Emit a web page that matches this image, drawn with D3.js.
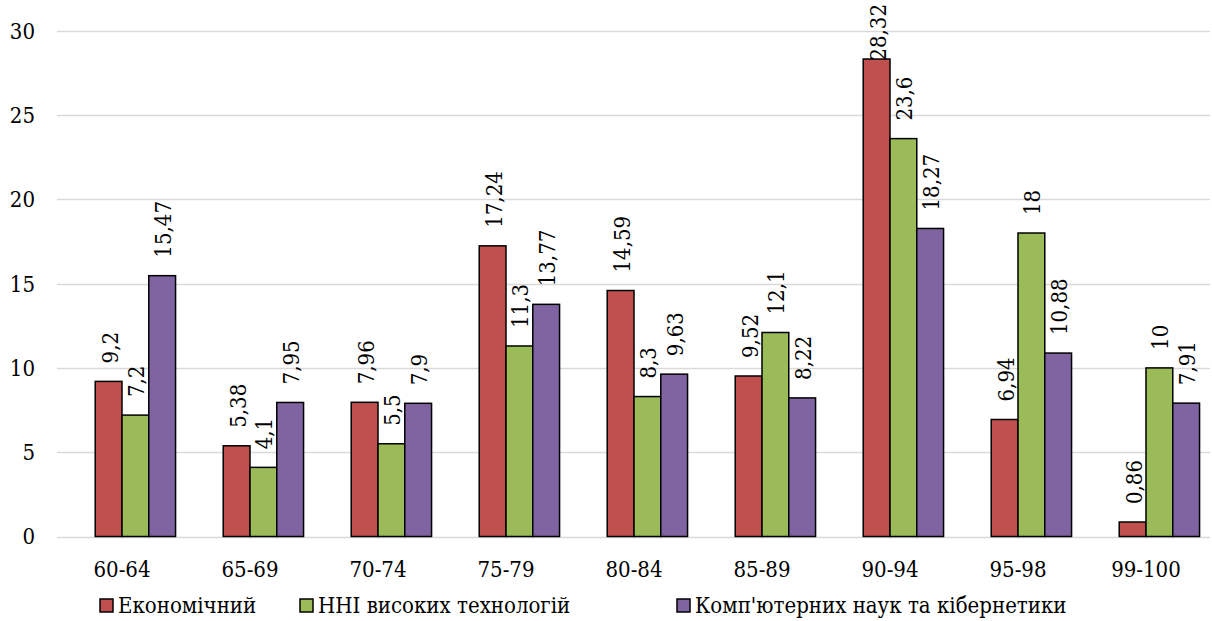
<!DOCTYPE html>
<html>
<head>
<meta charset="utf-8">
<script src="https://cdn.jsdelivr.net/npm/d3@7"></script>
<style>
  html, body { margin: 0; padding: 0; background: #fff; }
  svg text { font-family: 'DejaVu Serif Condensed', 'DejaVu Serif', serif; font-stretch: condensed; }
</style>
</head>
<body>
<svg id="chart" width="1212" height="621"></svg>
<script>
const categories = ["60-64", "65-69", "70-74", "75-79", "80-84", "85-89", "90-94", "95-98", "99-100"];
const seriesNames = ["Економічний", "ННІ високих технологій", "Комп'ютерних наук та кібернетики"];
const economic = [9.2, 5.38, 7.96, 17.24, 14.59, 9.52, 28.32, 6.94, 0.86];
const highTech = [7.2, 4.1, 5.5, 11.3, 8.3, 12.1, 23.6, 18, 10];
const compSci = [15.47, 7.95, 7.9, 13.77, 9.63, 8.22, 18.27, 10.88, 7.91];
const yTicks = [0, 5, 10, 15, 20, 25, 30];
const colors = ["#C0504D", "#9BBB59", "#8064A2"];

const seriesValues = [economic, highTech, compSci];
const svg = d3.select("#chart");
const fontSize = 22;

const plotLeft = 57, plotRight = 1210, plotTop = 30.7, plotBottom = 536.5;

const x0 = d3.scaleBand().domain(categories).range([plotLeft + 1, plotRight]).paddingInner(0).paddingOuter(0);
const slots = ["", ...seriesNames];
const x1 = d3.scaleBand().domain(slots).range([0, x0.bandwidth()]).paddingOuter(0.39).paddingInner(0);
const y = d3.scaleLinear().domain([0, 30]).range([plotBottom, plotTop]);

svg.append("g").selectAll("line").data(yTicks).join("line")
  .attr("x1", plotLeft).attr("x2", plotRight)
  .attr("y1", d => Math.round(y(d)) + 0.5).attr("y2", d => Math.round(y(d)) + 0.5)
  .attr("stroke", "#d9d9d9").attr("stroke-width", 1.3);

svg.append("g").selectAll("text").data(yTicks).join("text")
  .attr("x", 35).attr("y", d => y(d)).attr("dy", "0.36em")
  .attr("text-anchor", "end").attr("font-size", fontSize).attr("fill", "#000")
  .text(d => d);

svg.append("g").selectAll("text").data(categories).join("text")
  .attr("x", d => x0(d) + x0.bandwidth() / 2).attr("y", 577)
  .attr("text-anchor", "middle").attr("font-size", fontSize).attr("fill", "#000")
  .text(d => d);

const barData = [];
categories.forEach((c, i) => {
  seriesNames.forEach((s, j) => {
    barData.push({ cat: c, series: s, idx: j, value: seriesValues[j][i] });
  });
});

svg.append("g").selectAll("rect").data(barData).join("rect")
  .attr("x", d => x0(d.cat) + x1(d.series))
  .attr("y", d => y(d.value))
  .attr("width", x1.bandwidth())
  .attr("height", d => y(0) - y(d.value))
  .attr("fill", d => colors[d.idx])
  .attr("stroke", "#000").attr("stroke-width", 1.5);

const fmt = v => String(v).replace(".", ",");
const labels = svg.append("g").selectAll("text").data(barData).join("text")
  .attr("font-size", fontSize).attr("fill", "#000")
  .attr("text-anchor", "start")
  .text(d => fmt(d.value));
labels.each(function(d) {
  const len = this.getComputedTextLength();
  const cx = x0(d.cat) + x1(d.series) + x1.bandwidth() / 2 + 1;
  let by = y(d.value) - 18;
  if (by - len < 4) by = len + 4;
  d3.select(this).attr("transform", `translate(${cx + 8},${by}) rotate(-90)`);
});

const legendItems = [
  { name: seriesNames[0], x: 100 },
  { name: seriesNames[1], x: 300 },
  { name: seriesNames[2], x: 677 }
];
const lg = svg.append("g");
legendItems.forEach((it, i) => {
  lg.append("rect").attr("x", it.x).attr("y", 599).attr("width", 13).attr("height", 13)
    .attr("fill", colors[i]).attr("stroke", "#000").attr("stroke-width", 1.5);
  lg.append("text").attr("x", it.x + 18).attr("y", 613)
    .attr("font-size", fontSize).attr("fill", "#000").text(it.name);
});
</script>
</body>
</html>
